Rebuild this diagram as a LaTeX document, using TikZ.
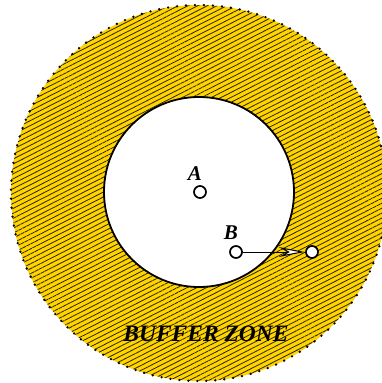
\documentclass[tikz,border=0pt]{standalone}
\usepackage{fontspec}
\setmainfont{Liberation Serif}
\usepackage{tikz}
\usetikzlibrary{arrows.meta,patterns.meta}
\definecolor{zoneyellow}{HTML}{FFD400}
\definecolor{hatchdark}{HTML}{2A2200}

\begin{document}
\begin{tikzpicture}[
  x=1pt, y=-1pt,
  pt/.style={draw,circle,line width=1.7pt,fill=white,inner sep=0pt,minimum size=12pt},
  lbl/.style={font=\bfseries\itshape\fontsize{21}{23}\selectfont},
  arrow/.style={-{Stealth[length=26pt,width=10pt,open,fill=white,inset=9pt,line width=1pt]},line width=1pt,shorten >=0.5pt}
]
  \useasboundingbox (0,0) rectangle (381,383);
  % buffer zone
  \fill[zoneyellow] (199,193) circle[radius=188];
  \fill[pattern={Lines[angle=27,distance=4.4pt,line width=0.8pt]},pattern color=hatchdark]
    (199,193) circle[radius=188];
  \draw[line width=2.6pt,dash pattern=on 0pt off 9pt,line cap=round] (199,193) circle[radius=188];
  % inner circle
  \draw[fill=white,line width=1.8pt] (199,192) circle[radius=95];

  \node[pt] (ptA) at (200,192) {};
  \node[lbl,anchor=base] (labA) at (195,180) {A};
  \node[pt] (ptB) at (236,252) {};
  \node[lbl,anchor=base] (labB) at (231,239) {B};
  \node[pt] (ptC) at (312,252) {};
  \draw[arrow] (ptB) -- (ptC);

  \node[lbl,font=\bfseries\itshape\fontsize{23.5}{25}\selectfont,anchor=base] (zone) at (206,341) {BUFFER ZONE};
\end{tikzpicture}
\end{document}
